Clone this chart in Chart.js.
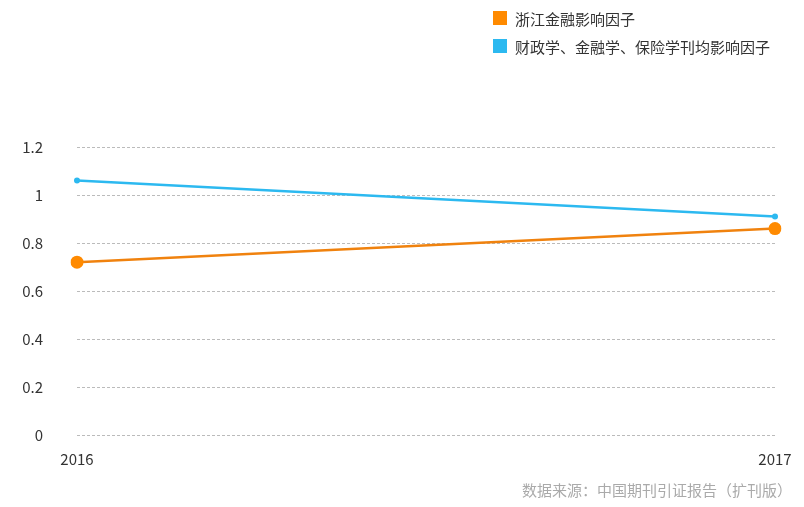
<!DOCTYPE html>
<html>
<head>
<meta charset="utf-8">
<script src="https://cdn.jsdelivr.net/npm/chart.js@4"></script>
<style>
  html, body { margin: 0; padding: 0; background: #fff; }
  #wrap { position: relative; width: 804px; height: 507px; font-family: "Noto Sans CJK SC", sans-serif; }
  #legend { position: absolute; left: 493px; top: 4px; font-size: 15px; color: #333; }
  .item { height: 28px; display: flex; align-items: center; }
  .box { width: 14px; height: 14px; margin-right: 8px; }
  #source { position: absolute; right: 12px; top: 479px; font-size: 15px; color: #aaa; }
</style>
</head>
<body>
<div id="wrap">
  <canvas id="grafica" width="804" height="507"></canvas>
  <div id="legend"></div>
  <div id="source">数据来源：中国期刊引证报告（扩刊版）</div>
</div>
<script>
const etiquetas = ["2016", "2017"];
const nombres = ["浙江金融影响因子", "财政学、金融学、保险学刊均影响因子"];
const zhejiang = [0.72, 0.86];
const promedio = [1.06, 0.91];
const colores = ["#ff8a00", "#2cb9f0"];

const fuente = "'Noto Sans CJK SC', sans-serif";

const $legend = document.querySelector("#legend");
nombres.forEach((n, i) => {
  const div = document.createElement("div");
  div.className = "item";
  div.innerHTML = '<span class="box" style="background:' + colores[i] + '"></span><span>' + n + "</span>";
  $legend.appendChild(div);
});

new Chart(document.querySelector("#grafica"), {
  type: "line",
  data: {
    labels: etiquetas,
    datasets: [
      {
        label: nombres[0],
        data: zhejiang,
        borderColor: "#f0820e",
        backgroundColor: colores[0],
        borderWidth: 2.5,
        pointRadius: 6.5,
        pointBorderWidth: 0,
        tension: 0,
      },
      {
        label: nombres[1],
        data: promedio,
        borderColor: colores[1],
        backgroundColor: colores[1],
        borderWidth: 2.5,
        pointRadius: 3,
        pointBorderWidth: 0,
        tension: 0,
      },
    ],
  },
  options: {
    responsive: false,
    animation: false,
    layout: { padding: { top: 147, right: 29, bottom: 39, left: 0 } },
    scales: {
      x: {
        offset: false,
        grid: { display: false, drawTicks: false },
        border: { display: false },
        ticks: { color: "#333", padding: 15, maxRotation: 0, font: { family: fuente, size: 15 } },
        afterFit: (s) => { s.height = 33; s.paddingLeft = 0; s.paddingRight = 0; },
      },
      y: {
        min: 0,
        max: 1.2,
        ticks: {
          stepSize: 0.2,
          color: "#333",
          padding: 34,
          font: { family: fuente, size: 15 },
          callback: (v) => String(Math.round(v * 10) / 10),
        },
        grid: { color: "#bbbbbb", drawTicks: false, lineWidth: 1 },
        border: { display: false, dash: [3, 2] },
        afterFit: (s) => { s.width = 77; },
      },
    },
    plugins: {
      legend: { display: false },
      tooltip: { enabled: false },
    },
  },
});
</script>
</body>
</html>
